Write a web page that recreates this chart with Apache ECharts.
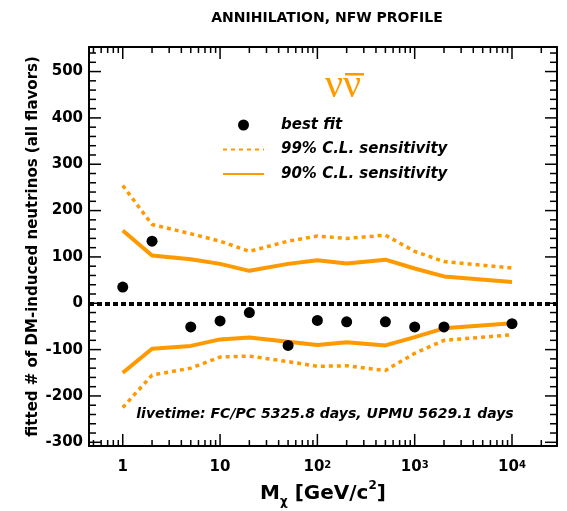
<!DOCTYPE html>
<html><head><meta charset="utf-8">
<script src="https://cdn.jsdelivr.net/npm/echarts@6/dist/echarts.min.js"></script>
<style>html,body{margin:0;padding:0;background:#fff}#c{width:567px;height:511px}</style>
</head><body><div id="c"></div>
<script>
// ---- data ----
const masses   = [1, 2, 5, 10, 20, 50, 100, 200, 500, 1000, 2000, 10000];
const bestFit  = [35, 134, -51, -38, -20, -91, -37, -40, -40, -51, -51, -44];
const up90     = [157, 103, 95, 85, 70, 85, 93, 86, 94, 75, 58, 46];
const up99     = [254, 170, 150, 134, 112, 134, 145, 140, 147, 112, 90, 76];
const lo90     = [-150, -98, -92, -78, -74, -83, -90, -84, -91, -73, -54, -43];
const lo99     = [-225, -155, -140, -116, -114, -126, -136, -135, -145, -108, -80, -68];
const xMajor   = [1, 10, 100, 1000, 10000];
const yMajor   = [-300, -200, -100, 0, 100, 200, 300, 400, 500];
const xMin = 0.45, xMax = 29000, yMin = -308, yMax = 553;

const xMinor = [];
[0.1, 1, 10, 100, 1000, 10000].forEach(d => { for (let k = 2; k <= 9; k++) { const v = +(k * d).toPrecision(3); if (v >= xMin && v <= xMax) xMinor.push(v); } });
const yMinor = [];
for (let v = -300; v <= 540; v += 20) if (v % 100 !== 0) yMinor.push(v);

const FONT = 'DejaVu Sans';
const ORANGE = '#ff9900';
const pairs = arr => masses.map((m, i) => [m, arr[i]]);

// tick specification (axis, value, length) drawn through the axis scales
const tickSpecs = [];
xMajor.forEach(v => tickSpecs.push({ axis: 'x', v: v, len: 12 }));
xMinor.forEach(v => tickSpecs.push({ axis: 'x', v: v, len: 6 }));
yMajor.forEach(v => tickSpecs.push({ axis: 'y', v: v, len: 12 }));
yMinor.forEach(v => tickSpecs.push({ axis: 'y', v: v, len: 7 }));

function xAx(pos, main) {
  return {
    type: 'log', logBase: 10, min: xMin, max: xMax, position: pos,
    axisLine: { show: true, onZero: false, lineStyle: { color: '#000', width: 2 } },
    axisTick: { show: false },
    axisLabel: main ? {
      show: true, customValues: xMajor, margin: 14, color: '#000',
      fontFamily: FONT, fontWeight: 'bold', fontSize: 15,
      formatter: v => { const e = Math.round(Math.log10(v)); return e === 0 ? '1' : e === 1 ? '10' : '10{s|' + e + '}'; },
      rich: { s: { fontSize: 10, fontFamily: FONT, fontWeight: 'bold', verticalAlign: 'top', color: '#000' } }
    } : { show: false },
    splitLine: { show: false }, minorTick: { show: false }, minorSplitLine: { show: false },
    name: main ? 'M{sub|χ} [GeV/c{sup|2}]' : '', nameLocation: 'middle', nameGap: 37,
    nameTextStyle: { fontFamily: FONT, fontWeight: 'bold', fontSize: 20, color: '#000',
      rich: { sub: { fontFamily: FONT, fontWeight: 'bold', fontSize: 12, verticalAlign: 'bottom', padding: [0, 0, -4, 0], color: '#000' },
              sup: { fontFamily: FONT, fontWeight: 'bold', fontSize: 12, verticalAlign: 'top', padding: [-4, 0, 0, 0], color: '#000' } } }
  };
}
function yAx(pos, main) {
  return {
    type: 'value', min: yMin, max: yMax, position: pos,
    axisLine: { show: true, onZero: false, lineStyle: { color: '#000', width: 2 } },
    axisTick: { show: false },
    axisLabel: main ? { show: true, customValues: yMajor, margin: 6, color: '#000', fontFamily: FONT, fontWeight: 'bold', fontSize: 15 } : { show: false },
    splitLine: { show: false }, minorTick: { show: false },
    name: main ? 'fitted # of DM-induced neutrinos (all flavors)' : '', nameLocation: 'middle', nameGap: 48, nameRotate: 90,
    nameMoveOverlap: false,
    nameTextStyle: { fontFamily: FONT, fontWeight: 'bold', fontSize: 15, color: '#000' }
  };
}

const chart = echarts.init(document.getElementById('c'), null, { renderer: 'canvas' });
chart.setOption({
  animation: false,
  backgroundColor: '#fff',
  title: { text: 'ANNIHILATION, NFW PROFILE', left: 322, top: 6, textAlign: 'center',
    textStyle: { fontFamily: FONT, fontWeight: 'bold', fontSize: 14, color: '#000' } },
  grid: { left: 89, right: 10, top: 47, bottom: 65, show: false, containLabel: false, outerBoundsMode: 'none' },
  xAxis: [xAx('bottom', true), xAx('top', false)],
  yAxis: [yAx('left', true), yAx('right', false)],
  legend: {
    left: 222, top: 116, orient: 'vertical', padding: 0, itemWidth: 41, itemHeight: 11, itemGap: 6.5,
    selectedMode: false,
    data: [{ name: 'best fit', icon: 'circle' },
           { name: '99% C.L. sensitivity', itemStyle: { opacity: 0 } },
           { name: '90% C.L. sensitivity', itemStyle: { opacity: 0 } }],
    textStyle: { fontFamily: FONT, fontSize: 15, fontWeight: 'bold', fontStyle: 'italic', color: '#000', lineHeight: 18, padding: [0, 0, 0, 12] }
  },
  graphic: [
    { type: 'text', left: 325, top: 66, style: { text: 'νν', font: '40px "Liberation Serif"', fill: ORANGE } },
    { type: 'rect', left: 345, top: 73, shape: { width: 19, height: 2.5 }, style: { fill: ORANGE } },
    { type: 'text', x: 325, y: 414, style: { text: 'livetime: FC/PC 5325.8 days, UPMU 5629.1 days', align: 'center', verticalAlign: 'middle',
      font: 'italic bold 14px "DejaVu Sans"', fill: '#000' } }
  ],
  series: [
    { name: 'ticks', type: 'custom', silent: true, clip: false, z: 10,
      data: tickSpecs.map(t => t.axis === 'x' ? [t.v, 0] : [1, t.v]),
      renderItem: (params, api) => {
        const t = tickSpecs[params.dataIndex];
        const cs = params.coordSys;
        const st = { stroke: '#000', lineWidth: 1.5 };
        if (t.axis === 'x') {
          const px = api.coord([t.v, 0])[0];
          const yb = cs.y + cs.height, yt = cs.y;
          return { type: 'group', children: [
            { type: 'line', shape: { x1: px, y1: yb, x2: px, y2: yb - t.len }, style: st },
            { type: 'line', shape: { x1: px, y1: yt, x2: px, y2: yt + t.len }, style: st } ] };
        }
        const py = api.coord([1, t.v])[1];
        const xl = cs.x, xr = cs.x + cs.width;
        return { type: 'group', children: [
          { type: 'line', shape: { x1: xl, y1: py, x2: xl + t.len, y2: py }, style: st },
          { type: 'line', shape: { x1: xr, y1: py, x2: xr - t.len, y2: py }, style: st } ] };
      } },
    { name: '99% C.L. sensitivity', type: 'line', data: pairs(up99), symbol: 'none', z: 2,
      lineStyle: { color: ORANGE, width: 3.5, type: [4, 4] }, itemStyle: { color: ORANGE } },
    { name: '99% C.L. sensitivity', type: 'line', data: pairs(lo99), symbol: 'none', z: 2,
      lineStyle: { color: ORANGE, width: 3.5, type: [4, 4] }, itemStyle: { color: ORANGE } },
    { name: '90% C.L. sensitivity', type: 'line', data: pairs(up90), symbol: 'none', z: 2,
      lineStyle: { color: ORANGE, width: 4 }, itemStyle: { color: ORANGE } },
    { name: '90% C.L. sensitivity', type: 'line', data: pairs(lo90), symbol: 'none', z: 2,
      lineStyle: { color: ORANGE, width: 4 }, itemStyle: { color: ORANGE },
      markLine: { silent: true, symbol: 'none', label: { show: false }, lineStyle: { color: '#000', width: 4, type: [5, 3] }, data: [{ yAxis: 0 }] } },
    { name: 'best fit', type: 'scatter', data: pairs(bestFit), symbol: 'circle', symbolSize: 11, z: 5,
      itemStyle: { color: '#000', opacity: 1 } }
  ]
});
</script></body></html>
